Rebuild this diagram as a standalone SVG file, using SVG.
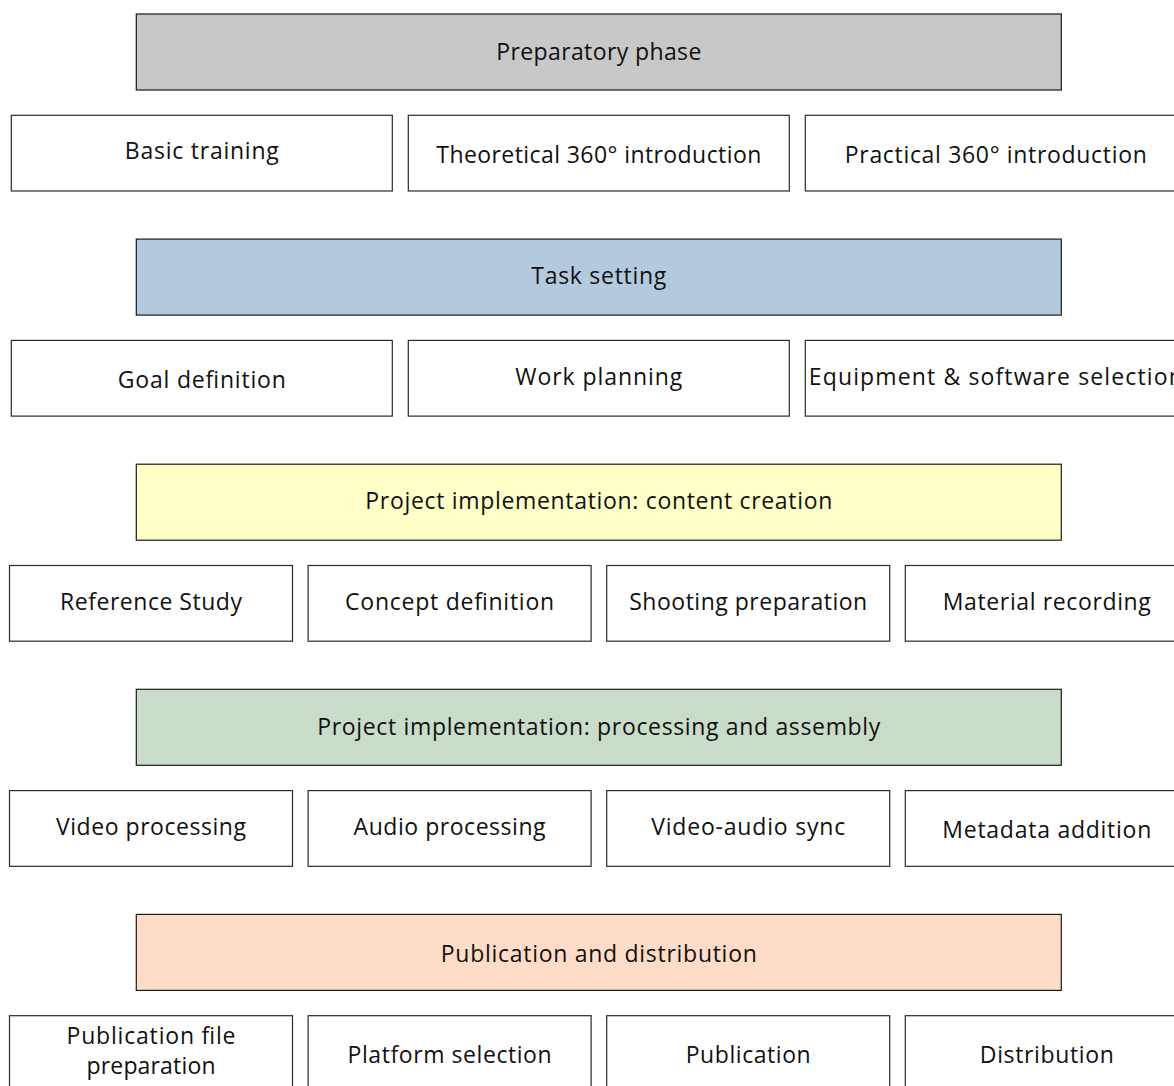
<svg xmlns="http://www.w3.org/2000/svg" width="1174" height="1086" viewBox="0 0 1174 1086">
<style>
.hdr{stroke:#1a1a1a;stroke-width:1.2}
.box{fill:#ffffff;stroke:#2a2a2a;stroke-width:1.2}
.t{font-family:"Open Sans","DejaVu Sans",sans-serif;font-size:23px;fill:#111;text-anchor:middle}
</style>
<rect width="1174" height="1086" fill="#ffffff"/>
<g id="connectors"/>
<!-- Section 1 -->
<g id="preparatory-phase"><rect class="hdr" x="136.3" y="14" width="925" height="76" fill="#c8c8c8"/><text class="t" x="598.8" y="59.5" textLength="205" lengthAdjust="spacing">Preparatory phase</text></g>
<g id="basic-training"><rect class="box" x="11.3" y="115.3" width="381" height="75.7"/><text class="t" x="201.8" y="159.3" textLength="154" lengthAdjust="spacing">Basic training</text></g>
<g id="theoretical-intro"><rect class="box" x="408.3" y="115.3" width="381" height="75.7"/><text class="t" x="598.8" y="163" textLength="325" lengthAdjust="spacing">Theoretical 360° introduction</text></g>
<g id="practical-intro"><rect class="box" x="805.3" y="115.3" width="381" height="75.7"/><text class="t" x="995.8" y="163" textLength="302" lengthAdjust="spacing">Practical 360° introduction</text></g>
<!-- Section 2 -->
<g id="task-setting"><rect class="hdr" x="136.3" y="239.1" width="925" height="76" fill="#b3c9dd"/><text class="t" x="598.8" y="284.3" textLength="135" lengthAdjust="spacing">Task setting</text></g>
<g id="goal-definition"><rect class="box" x="11.3" y="340.4" width="381" height="75.7"/><text class="t" x="201.8" y="388.2" textLength="168" lengthAdjust="spacing">Goal definition</text></g>
<g id="work-planning"><rect class="box" x="408.3" y="340.4" width="381" height="75.7"/><text class="t" x="598.8" y="384.6" textLength="167" lengthAdjust="spacing">Work planning</text></g>
<g id="equipment-selection"><rect class="box" x="805.3" y="340.4" width="381" height="75.7"/><text class="t" x="995.8" y="384.6" textLength="374" lengthAdjust="spacing">Equipment &amp; software selection</text></g>
<!-- Section 3 -->
<g id="content-creation"><rect class="hdr" x="136.3" y="464.2" width="925" height="76" fill="#ffffc8"/><text class="t" x="598.8" y="509.4" textLength="467" lengthAdjust="spacing">Project implementation: content creation</text></g>
<g id="reference-study"><rect class="box" x="9.5" y="565.5" width="283" height="75.7"/><text class="t" x="151" y="609.7" textLength="182" lengthAdjust="spacing">Reference Study</text></g>
<g id="concept-definition"><rect class="box" x="308.1" y="565.5" width="283" height="75.7"/><text class="t" x="449.6" y="609.7" textLength="209" lengthAdjust="spacing">Concept definition</text></g>
<g id="shooting-preparation"><rect class="box" x="606.7" y="565.5" width="283" height="75.7"/><text class="t" x="748.2" y="609.7" textLength="238" lengthAdjust="spacing">Shooting preparation</text></g>
<g id="material-recording"><rect class="box" x="905.3" y="565.5" width="283" height="75.7"/><text class="t" x="1046.8" y="609.7" textLength="208" lengthAdjust="spacing">Material recording</text></g>
<!-- Section 4 -->
<g id="processing-assembly"><rect class="hdr" x="136.3" y="689.3" width="925" height="76" fill="#c9dcc9"/><text class="t" x="598.8" y="734.5" textLength="563" lengthAdjust="spacing">Project implementation: processing and assembly</text></g>
<g id="video-processing"><rect class="box" x="9.5" y="790.6" width="283" height="75.7"/><text class="t" x="151" y="834.8" textLength="190" lengthAdjust="spacing">Video processing</text></g>
<g id="audio-processing"><rect class="box" x="308.1" y="790.6" width="283" height="75.7"/><text class="t" x="449.6" y="834.8" textLength="192" lengthAdjust="spacing">Audio processing</text></g>
<g id="video-audio-sync"><rect class="box" x="606.7" y="790.6" width="283" height="75.7"/><text class="t" x="748.2" y="834.8" textLength="194" lengthAdjust="spacing">Video-audio sync</text></g>
<g id="metadata-addition"><rect class="box" x="905.3" y="790.6" width="283" height="75.7"/><text class="t" x="1046.8" y="837.8" textLength="209" lengthAdjust="spacing">Metadata addition</text></g>
<!-- Section 5 -->
<g id="publication-distribution"><rect class="hdr" x="136.3" y="914.4" width="925" height="76" fill="#ffdcc8"/><text class="t" x="598.8" y="962" textLength="316" lengthAdjust="spacing">Publication and distribution</text></g>
<g id="publication-file-preparation"><rect class="box" x="9.5" y="1015.7" width="283" height="75.7"/><text class="t" x="151" y="1043.5" textLength="169" lengthAdjust="spacing">Publication file</text><text class="t" x="151" y="1073.5" textLength="129" lengthAdjust="spacing">preparation</text></g>
<g id="platform-selection"><rect class="box" x="308.1" y="1015.7" width="283" height="75.7"/><text class="t" x="449.6" y="1062.7" textLength="204" lengthAdjust="spacing">Platform selection</text></g>
<g id="publication"><rect class="box" x="606.7" y="1015.7" width="283" height="75.7"/><text class="t" x="748.2" y="1062.7" textLength="125" lengthAdjust="spacing">Publication</text></g>
<g id="distribution"><rect class="box" x="905.3" y="1015.7" width="283" height="75.7"/><text class="t" x="1046.8" y="1062.7" textLength="134" lengthAdjust="spacing">Distribution</text></g>
</svg>
